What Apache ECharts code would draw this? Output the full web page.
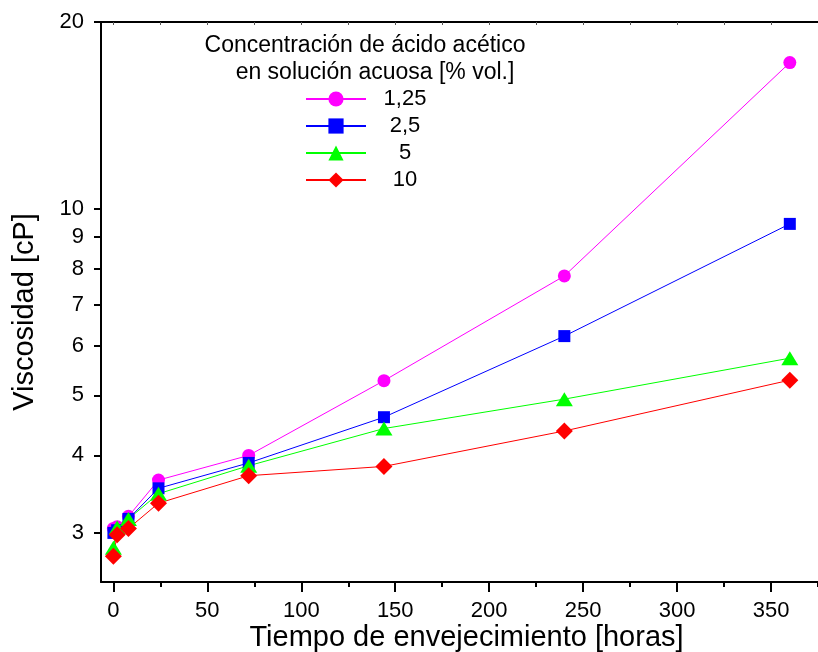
<!DOCTYPE html>
<html><head><meta charset="utf-8">
<script src="https://cdn.jsdelivr.net/npm/echarts@6/dist/echarts.min.js"></script>
<style>html,body{margin:0;padding:0;background:#fff}#c{width:818px;height:652px}</style>
</head><body><div id="c"></div>
<script>
// ---- data ----
const hours = [0, 2, 8, 24, 72, 144, 240, 360];
const seriesNames = ['1,25', '2,5', '5', '10'];
const visc125 = [3.05, 3.07, 3.19, 3.65, 4.00, 5.28, 7.79, 17.2];
const visc25  = [3.00, 3.03, 3.16, 3.54, 3.89, 4.61, 6.23, 9.45];
const visc5   = [2.84, 3.06, 3.16, 3.47, 3.85, 4.42, 4.93, 5.74];
const visc10  = [2.75, 2.98, 3.05, 3.35, 3.71, 3.84, 4.38, 5.29];
const xMajorTicks = [0, 50, 100, 150, 200, 250, 300, 350];
const xMinorTicks = [25, 75, 125, 175, 225, 275, 325, 375];
const xTopTicks = [0, 25, 50, 75, 100, 125, 150, 175, 200, 225, 250, 275, 300, 325, 350, 375];
const yTicks = [3, 4, 5, 6, 7, 8, 9, 10, 20];
const legendTitle1 = 'Concentración de ácido acético';
const legendTitle2 = 'en solución acuosa [% vol.]';
const xName = 'Tiempo de envejecimiento [horas]';
const yName = 'Viscosidad [cP]';

const FONT = "'Liberation Sans', Arial, sans-serif";
const chart = echarts.init(document.getElementById('c'), null, {renderer: 'canvas'});

function pairs(vals) { return hours.map((h, i) => [h, vals[i]]); }
const styles = [
  {color: '#ff00ff', symbol: 'circle', size: 13},
  {color: '#0000ff', symbol: 'rect', size: 12},
  {color: '#00ff00', symbol: 'triangle', size: [17, 14]},
  {color: '#ff0000', symbol: 'diamond', size: 17}
];
const allVals = [visc125, visc25, visc5, visc10];

const xMin = -6.6, xMax = 375;

const option = {
  backgroundColor: '#fff',
  animation: false,
  textStyle: {fontFamily: FONT},
  title: [
    {text: legendTitle1, left: 365, top: 34, textAlign: 'center', padding: 0,
     textStyle: {fontFamily: FONT, fontSize: 23, fontWeight: 'normal', color: '#000'}},
    {text: legendTitle2, left: 375, top: 61, textAlign: 'center', padding: 0,
     textStyle: {fontFamily: FONT, fontSize: 23, fontWeight: 'normal', color: '#000'}}
  ],
  legend: {
    orient: 'vertical', left: 305, top: 88, padding: 0,
    itemWidth: 60, itemHeight: 19, itemGap: 5,
    data: seriesNames,
    formatter: n => '{c|' + n + '}',
    textStyle: {fontFamily: FONT, fontSize: 22, color: '#000',
      rich: {c: {width: 68, align: 'center', fontSize: 22, fontFamily: FONT}}}
  },
  grid: {left: 101, top: 22, right: 0, bottom: 70, containLabel: false, outerBoundsMode: 'none'},
  xAxis: [
    {type: 'value', position: 'bottom', min: xMin, max: xMax, offset: 0,
     name: xName, nameLocation: 'middle', nameGap: 41, nameMoveOverlap: false,
     nameTextStyle: {fontFamily: FONT, fontSize: 29, color: '#000', padding: [0, 0, 0, 14]},
     axisLine: {show: true, onZero: false, lineStyle: {color: '#000', width: 2}},
     axisTick: {show: true, customValues: xMajorTicks, length: 10, lineStyle: {color: '#000', width: 2}},
     axisLabel: {show: true, customValues: xMajorTicks, fontFamily: FONT, fontSize: 22, color: '#000', margin: 18},
     splitLine: {show: false}},
    {type: 'value', position: 'bottom', min: xMin, max: xMax, offset: 0,
     axisLine: {show: false},
     axisTick: {show: true, customValues: xMinorTicks, length: 5, lineStyle: {color: '#000', width: 2}},
     axisLabel: {show: false}, splitLine: {show: false}},
    {type: 'value', position: 'top', min: xMin, max: xMax, offset: 0,
     axisLine: {show: true, onZero: false, lineStyle: {color: '#000', width: 2}},
     axisTick: {show: true, inside: true, customValues: xTopTicks, length: 3, lineStyle: {color: '#555', width: 1}},
     axisLabel: {show: false}, splitLine: {show: false}}
  ],
  yAxis: [
    {type: 'log', logBase: 10, min: 2.5, max: 20,
     name: yName, nameLocation: 'middle', nameGap: 62,
     nameTextStyle: {fontFamily: FONT, fontSize: 29, color: '#000', padding: [0, 20, 0, 0]},
     axisLine: {show: true, onZero: false, lineStyle: {color: '#000', width: 2}},
     axisTick: {show: true, customValues: yTicks, length: 7, lineStyle: {color: '#000', width: 2}},
     axisLabel: {show: true, customValues: yTicks, fontFamily: FONT, fontSize: 22, color: '#000', margin: 17,
       formatter: v => String(Math.round(v))},
     minorTick: {show: false}, splitLine: {show: false}}
  ],
  series: seriesNames.map((n, i) => ({
    name: n, type: 'line', xAxisIndex: 0, yAxisIndex: 0,
    data: pairs(allVals[i]),
    symbol: styles[i].symbol, symbolSize: styles[i].size,
    itemStyle: {color: styles[i].color},
    lineStyle: {color: styles[i].color, width: 1},
    clip: false
  }))
};
chart.setOption(option);
</script>
</body></html>
